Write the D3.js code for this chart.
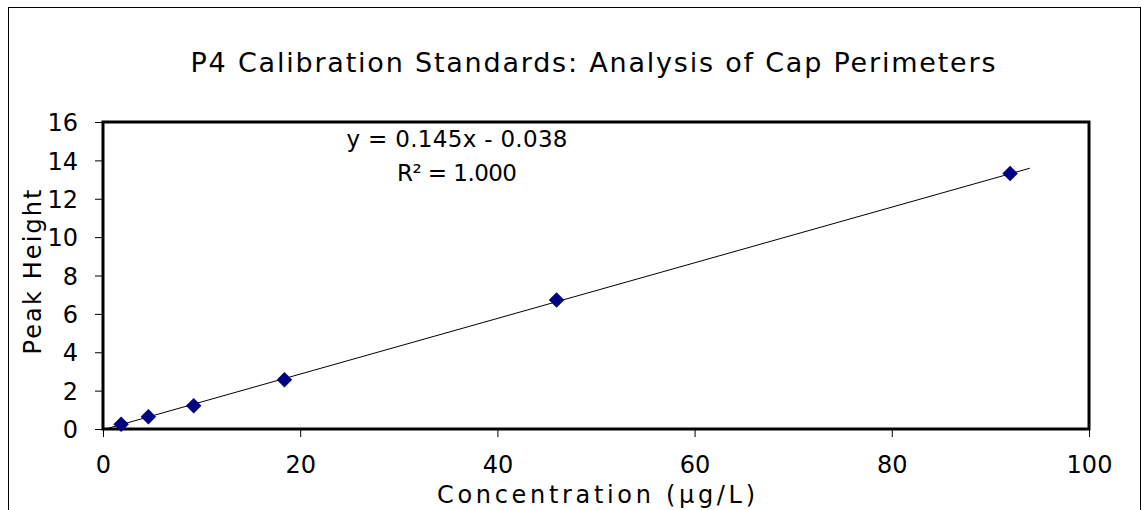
<!DOCTYPE html>
<html><head><meta charset="utf-8">
<script src="https://cdn.jsdelivr.net/npm/d3@7"></script>
<style>body{margin:0;background:#fff;} text{font-family:"DejaVu Sans",sans-serif;fill:#000;}</style>
</head><body><svg id="c" width="1142" height="510"></svg>
<script>
const concentration = [1.84, 4.6, 9.2, 18.4, 46, 92];
const peakHeight = [0.245, 0.64, 1.21, 2.57, 6.72, 13.32];
const xTicks = [0, 20, 40, 60, 80, 100];
const yTicks = [0, 2, 4, 6, 8, 10, 12, 14, 16];
const slope = 0.145, intercept = -0.038;
const trendRange = [0.5, 94];
const title = "P4 Calibration Standards: Analysis of Cap Perimeters";
const xTitle = "Concentration (µg/L)";
const yTitle = "Peak Height";
const eqLines = ["y = 0.145x - 0.038", "R² = 1.000"];

const svg = d3.select("#c");
const L = 103, R = 1089, T = 122, B = 429;
const x = d3.scaleLinear().domain([0, 100]).range([L, R]);
const y = d3.scaleLinear().domain([0, 16]).range([B, T]);

svg.append("rect").attr("x", 8.5).attr("y", 7.5).attr("width", 1132).attr("height", 510)
  .attr("fill", "none").attr("stroke", "#000").attr("stroke-width", 1);

svg.append("text").attr("x", 593).attr("y", 72).attr("text-anchor", "middle")
  .style("font-size", "27px").attr("textLength", 805).attr("lengthAdjust", "spacing").text(title);

const xAxis = d3.axisBottom(x).tickValues(xTicks).tickSize(8).tickFormat(d3.format("d"));
const gx = svg.append("g").attr("transform", `translate(0,${B})`).call(xAxis);
gx.select(".domain").remove();
gx.selectAll(".tick line").attr("stroke", "#000");
gx.selectAll(".tick text").attr("y", 44).attr("dy", 0).style("font-size", "24px");

const yAxis = d3.axisLeft(y).tickValues(yTicks).tickSize(8);
const gy = svg.append("g").attr("transform", `translate(${L},0)`).call(yAxis);
gy.select(".domain").remove();
gy.selectAll(".tick line").attr("stroke", "#000");
gy.selectAll(".tick text").attr("x", -25).attr("dy", "0.36em").style("font-size", "24px");

svg.append("rect").attr("x", L).attr("y", T).attr("width", R - L).attr("height", B - T)
  .attr("fill", "none").attr("stroke", "#000").attr("stroke-width", 3);

svg.append("line")
  .attr("x1", x(trendRange[0])).attr("y1", y(slope * trendRange[0] + intercept))
  .attr("x2", x(trendRange[1])).attr("y2", y(slope * trendRange[1] + intercept))
  .attr("stroke", "#000").attr("stroke-width", 1);

svg.append("g").selectAll("path").data(concentration).join("path")
  .attr("d", d3.symbol().type(d3.symbolSquare).size(120))
  .attr("transform", (d, i) => `translate(${x(d)},${y(peakHeight[i])}) rotate(45)`)
  .attr("fill", "#000080");

svg.append("text").attr("x", 457).attr("y", 147).attr("text-anchor", "middle")
  .style("font-size", "23px").attr("textLength", 221).attr("lengthAdjust", "spacing").text(eqLines[0]);
svg.append("text").attr("x", 457).attr("y", 181).attr("text-anchor", "middle")
  .style("font-size", "23px").attr("textLength", 120).attr("lengthAdjust", "spacing").text(eqLines[1]);

svg.append("text").attr("x", 596).attr("y", 503).attr("text-anchor", "middle")
  .style("font-size", "24px").attr("textLength", 318).attr("lengthAdjust", "spacing").text(xTitle);
svg.append("text").attr("transform", "translate(41,272) rotate(-90)").attr("text-anchor", "middle")
  .style("font-size", "24px").attr("textLength", 165).attr("lengthAdjust", "spacing").text(yTitle);
</script></body></html>
